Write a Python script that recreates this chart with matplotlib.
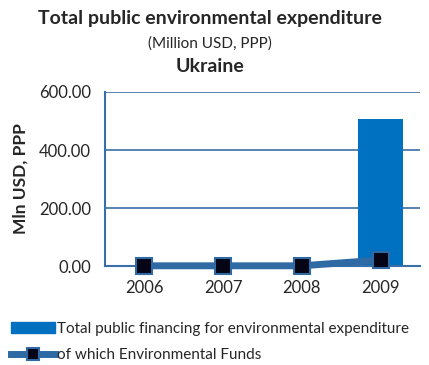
import matplotlib
matplotlib.use("Agg")
import matplotlib.pyplot as plt
from matplotlib.patches import Patch
from matplotlib.lines import Line2D

years = ["2006", "2007", "2008", "2009"]
total_financing = [0.0, 0.0, 0.0, 507.0]
env_funds = [1.0, 1.0, 1.0, 21.0]

BAR_BLUE = "#0070c0"
LINE_BLUE = "#2f6aa5"
GRID_BLUE = "#3a6ea8"
TEXT = "#262626"

plt.rcParams["font.family"] = ["Lato", "DejaVu Sans"]

fig = plt.figure(figsize=(4.29, 3.65), dpi=100)
ax = fig.add_axes([0.245, 0.271, 0.734, 0.477])

x = list(range(len(years)))
ax.bar(x, total_financing, width=0.57, color=BAR_BLUE, zorder=2)
ax.plot(x, env_funds, color=LINE_BLUE, lw=5, marker="s", ms=11,
        mfc="#050515", mec=LINE_BLUE, mew=1.5, zorder=4, clip_on=False)

ax.set_xlim(-0.5, 3.5)
ax.set_ylim(0, 600)
ax.set_yticks([0, 200, 400, 600])
ax.set_yticklabels([f"{v:.2f}" for v in [0, 200, 400, 600]], fontsize=12,
                   color=TEXT)
ax.set_xticks(x)
ax.set_xticklabels(years, fontsize=12, color=TEXT)
ax.tick_params(axis="y", length=0, pad=10)
ax.tick_params(axis="x", length=0, pad=10)
ax.grid(axis="y", color=GRID_BLUE, lw=1.2, zorder=0)
for s in ["top", "right"]:
    ax.spines[s].set_visible(False)
for s in ["left", "bottom"]:
    ax.spines[s].set_color(GRID_BLUE)
    ax.spines[s].set_linewidth(1.5)
ax.set_ylabel("Mln USD, PPP", fontsize=12.5, fontweight="bold", labelpad=8,
              color=TEXT)

fig.text(0.49, 0.948, "Total public environmental expenditure", ha="center",
         va="center", fontsize=14, fontweight="bold", color=TEXT)
fig.text(0.49, 0.882, "(Million USD, PPP)", ha="center", va="center",
         fontsize=11, color=TEXT)
fig.text(0.49, 0.818, "Ukraine", ha="center", va="center", fontsize=14,
         fontweight="bold", color=TEXT)

handles = [
    Patch(color=BAR_BLUE),
    Line2D([], [], color=LINE_BLUE, lw=5, marker="s", ms=9,
           mfc="#050515", mec=LINE_BLUE, mew=1.5),
]
labels = ["Total public financing for environmental expenditure",
          "of which Environmental Funds"]
leg = fig.legend(handles, labels, loc="lower left",
                 bbox_to_anchor=(0.0, -0.022), frameon=False, fontsize=11,
                 handlelength=2.9, handletextpad=0.15, labelspacing=0.8,
                 borderaxespad=0.3)
for t in leg.get_texts():
    t.set_color(TEXT)

fig.savefig("out.png", dpi=100)
